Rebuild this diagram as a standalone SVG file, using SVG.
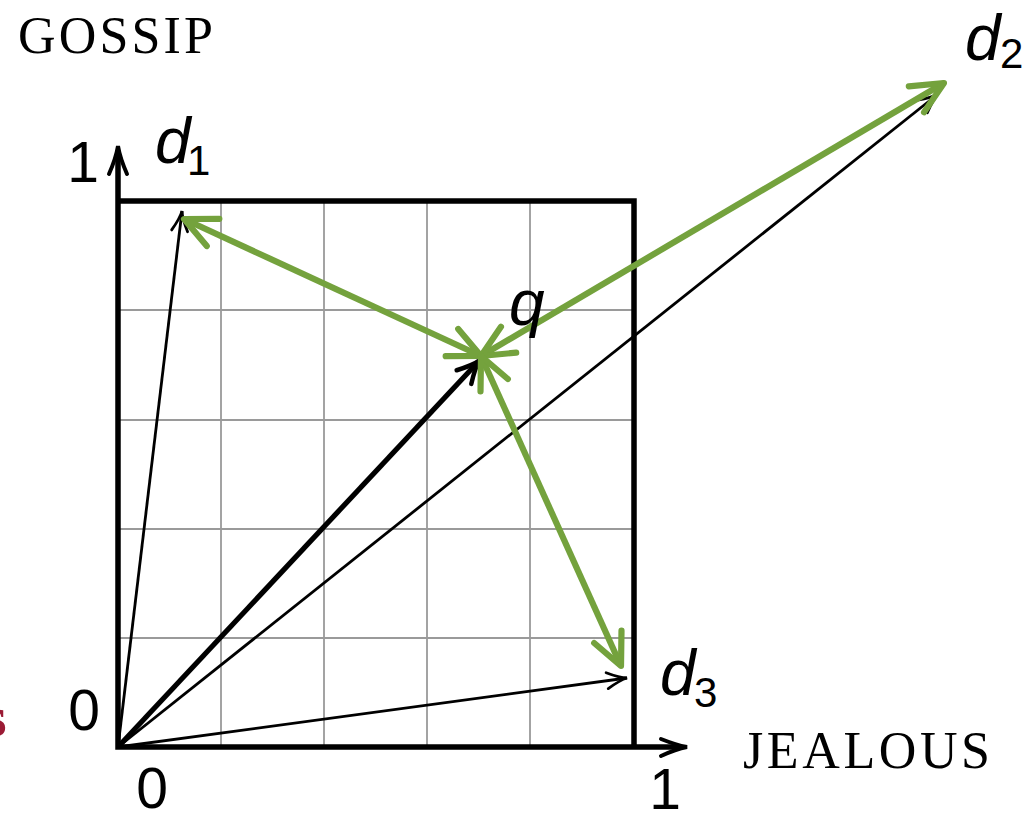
<svg xmlns="http://www.w3.org/2000/svg" width="1036" height="813" viewBox="0 0 1036 813">
<style>
.grid{stroke:#9a9a9a;stroke-width:1.8;fill:none}
.frame{stroke:#000;stroke-width:5.5;fill:none;stroke-linejoin:miter}
.vec{stroke:#000;stroke-width:2.8;fill:none}
.vecq{stroke:#000;stroke-width:5.2;fill:none}
.green{stroke:#74a23d;stroke-width:6.2;fill:none;stroke-linecap:butt}
.serif{font-family:"Liberation Serif","Times New Roman",serif;font-size:52px;fill:#000}
.num{font-family:"Liberation Sans",Arial,sans-serif;font-size:57px;fill:#000;text-anchor:middle}
.var{font-family:"Liberation Sans",Arial,sans-serif;font-style:italic;font-size:64px;fill:#000}
.sub{font-family:"Liberation Sans",Arial,sans-serif;font-size:42px;fill:#000}
</style>
<defs>
<marker id="ga" markerUnits="userSpaceOnUse" markerWidth="80" markerHeight="80" refX="0" refY="0" viewBox="-40 -40 80 80" orient="auto-start-reverse" overflow="visible">
<path d="M-32,-15 L0,0 L-32,15" fill="none" stroke="#74a23d" stroke-width="6.2" stroke-linecap="round" stroke-linejoin="round"/>
</marker>
<marker id="ba" markerUnits="userSpaceOnUse" markerWidth="60" markerHeight="60" refX="0" refY="0" viewBox="-30 -30 60 60" orient="auto" overflow="visible">
<path d="M-20,-8 Q-7,-1 0,0 Q-7,1 -20,8" fill="none" stroke="#000" stroke-width="2.8" stroke-linecap="round"/>
</marker>
<marker id="bt" markerUnits="userSpaceOnUse" markerWidth="60" markerHeight="60" refX="0" refY="0" viewBox="-30 -30 60 60" orient="auto" overflow="visible">
<path d="M-22,-10 Q-8,-2 0,0 Q-8,2 -22,10" fill="none" stroke="#000" stroke-width="4.5" stroke-linecap="round"/>
</marker>
</defs>
<rect width="1036" height="813" fill="#fff"/>

<g id="grid">
<path class="grid" d="M221,201 V747 M324,201 V747 M427,201 V747 M530,201 V747 M118,310 H634 M118,420 H634 M118,529 H634 M118,638 H634"/>
</g>

<g id="axes">
<path class="frame" d="M118,201 H634 V747"/>
<path class="frame" d="M118,152 V747 H682"/>
<path d="M109,174 Q116,158 118,146 Q120,158 127,174" fill="none" stroke="#000" stroke-width="4" stroke-linecap="round"/>
<path d="M661,739 Q676,745 687,747 Q676,749 661,756" fill="none" stroke="#000" stroke-width="4" stroke-linecap="round"/>
</g>

<g id="vectors">
<g id="vec-d1"><line class="vec" x1="118" y1="747" x2="182" y2="211" marker-end="url(#ba)"/></g>
<g id="vec-d2"><line class="vec" x1="118" y1="747" x2="938" y2="94" marker-end="url(#ba)"/></g>
<g id="vec-d3"><line class="vec" x1="118" y1="747" x2="627" y2="678" marker-end="url(#ba)"/></g>
<g id="vec-q"><line class="vecq" x1="118" y1="747" x2="479" y2="361" marker-end="url(#bt)"/></g>
</g>

<g id="connectors">
<line class="green" x1="481" y1="356" x2="184" y2="219" marker-start="url(#ga)" marker-end="url(#ga)"/>
<line class="green" x1="481" y1="356" x2="944" y2="83" marker-start="url(#ga)" marker-end="url(#ga)"/>
<line class="green" x1="481" y1="356" x2="621" y2="666" marker-start="url(#ga)" marker-end="url(#ga)"/>
</g>

<g id="labels">
<text class="serif" x="18" y="53" textLength="195" lengthAdjust="spacing">GOSSIP</text>
<text class="serif" x="743" y="768" textLength="247" lengthAdjust="spacing">JEALOUS</text>
<text class="num" x="83" y="182">1</text>
<text class="num" x="84" y="730">0</text>
<text class="num" x="152" y="808">0</text>
<text class="num" x="665" y="809">1</text>
<text x="-16" y="736" style="font-family:'Liberation Serif',serif;font-size:58px;font-weight:bold;fill:#9b1b35">s</text>
</g>

<g id="node-d1"><text class="var" x="155" y="163">d</text><text class="sub" x="187" y="175">1</text></g>
<g id="node-d2"><text class="var" x="965" y="60">d</text><text class="sub" x="1000" y="68">2</text></g>
<g id="node-d3"><text class="var" x="660" y="695">d</text><text class="sub" x="694" y="707">3</text></g>
<g id="node-q"><text class="var" x="509" y="325">q</text></g>
</svg>
